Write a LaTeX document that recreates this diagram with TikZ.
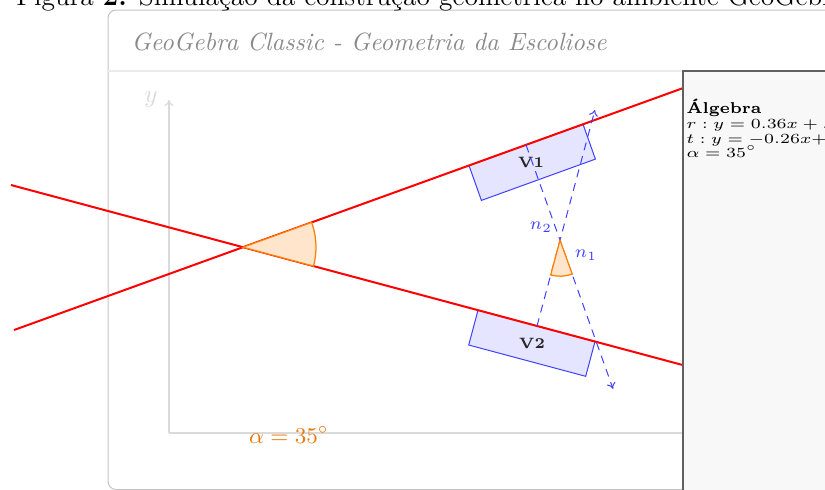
\documentclass[tikz,border=0pt]{standalone}
\usepackage{amsmath, amssymb}
\usepackage{tikz}
\usetikzlibrary{arrows.meta, calc}
\usepackage{xcolor}

\definecolor{ggred}{HTML}{FF0000}
\definecolor{ggblue}{HTML}{4040FF}
\definecolor{ggvfill}{HTML}{E5E5FF}
\definecolor{ggorange}{HTML}{FF8000}
\definecolor{ggangfill}{HTML}{FFE5CC}
\definecolor{ggalpha}{HTML}{E67A10}
\definecolor{ggframe}{HTML}{C4C4C4}
\definecolor{ggaxis}{HTML}{DADADA}
\definecolor{ggsep}{HTML}{EBEBEB}
\definecolor{ggtitle}{HTML}{8A8A8A}
\definecolor{ggpanel}{HTML}{F8F8F8}
\definecolor{ggborder}{HTML}{606060}

\newcommand{\algline}[1]{\scalebox{1}[0.8]{\scriptsize #1}}

\begin{document}
\begin{tikzpicture}[x=0.4pt, y=-0.4pt,
    reta/.style={ggred, line width=0.8pt},
    normalvec/.style={ggblue, line width=0.4pt, dash pattern=on 3.2pt off 2.4pt, -{To[length=2.4pt, width=3.6pt]}},
    vbox/.style={draw=ggblue, fill=ggvfill, line width=0.4pt},
    vlabel/.style={font=\fontsize{6}{7}\selectfont\bfseries, text=black!85},
    angsec/.style={draw=ggorange, fill=ggangfill, line width=0.5pt},
    eixo/.style={ggaxis, line width=0.5pt},
    algtxt/.style={anchor=base west, inner sep=0pt}]
    \clip (0,0) rectangle (825,489);

    % Window frame and header
    \draw[ggframe, line width=0.4pt, rounded corners=3.2pt] (108,10) rectangle (860,489.5);
    \draw[ggsep, line width=0.5pt] (108,71) -- (683,71);
    \node[anchor=base west, inner sep=0pt, text=ggtitle] (titulo) at (131,50) {\itshape GeoGebra Classic - Geometria da Escoliose};

    % Caption (cut at the top)
    \node[anchor=base west, inner sep=0pt] (legenda) at (16,5) {\fontsize{11}{13}\selectfont Figura \textbf{2:} Simula\c{c}\~ao da constru\c{c}\~ao geom\'etrica no ambiente GeoGebra};

    % Axes
    \draw[eixo] (169,433) -- (683,433);
    \draw[eixo, -{To[length=2.4pt, width=3.6pt]}] (169,433) -- (169,100);
    \node[text=ggaxis] (ylab) at (151,100) {$y$};

    % Vertebrae V1 and V2
    \draw[vbox] (469,165.5) -- (583,124.2) -- (595.4,159.1) -- (481.4,200.4) -- cycle;
    \draw[vbox] (478,310.2) -- (595,341.5) -- (585.7,376.3) -- (468.7,345.0) -- cycle;
    \node[vlabel] (v1lab) at (531,162) {V1};
    \node[vlabel] (v2lab) at (532,343) {V2};

    % Lines r and t
    \coordinate (rL) at (14,330);
    \coordinate (rR) at (683,88.1);
    \coordinate (tL) at (11,185);
    \coordinate (tR) at (683,365.1);
    \coordinate (X) at (243,247.2);
    \draw[reta] (rL) -- (rR);
    \draw[reta] (tL) -- (tR);

    % Normals n1 and n2
    \coordinate (n1a) at (526,144.8);
    \coordinate (n1b) at (613,388.8);
    \coordinate (n2a) at (537,326.0);
    \coordinate (n2b) at (594.9,110);
    \coordinate (Y) at (560,240.2);
    \draw[normalvec] (n1a) -- (n1b);
    \draw[normalvec] (n2a) -- (n2b);
    \node[text=ggblue] (n1lab) at (586,255) {\scriptsize$n_1$};
    \node[text=ggblue] (n2lab) at (541,227) {\scriptsize$n_2$};

    % Angle sectors
    \filldraw[angsec] (X) -- ++(-19.88:73) arc[start angle=-19.88, end angle=15, radius=73] -- cycle;
    \filldraw[angsec] (Y) -- ++(70.12:36) arc[start angle=70.12, end angle=105, radius=36] -- cycle;
    \node[text=ggalpha] (alab) at (289,435) {\small$\alpha = 35^\circ$};

    % Algebra panel
    \fill[ggpanel] (683,71) rectangle (830,495);
    \draw[ggborder, line width=0.6pt] (683,495) -- (683,71) -- (830,71);
    \node[algtxt] (alg) at (686,113) {\fontsize{6.3}{7}\selectfont\bfseries \'Algebra};
    \node[algtxt] (algr) at (686,128) {\algline{$r: y = 0.36x + ..$}};
    \node[algtxt] (algt) at (686,143) {\algline{$t: y = -0.26x{+}..$}};
    \node[algtxt] (alga) at (686,157) {\algline{$\alpha = 35^\circ$}};
\end{tikzpicture}
\end{document}
